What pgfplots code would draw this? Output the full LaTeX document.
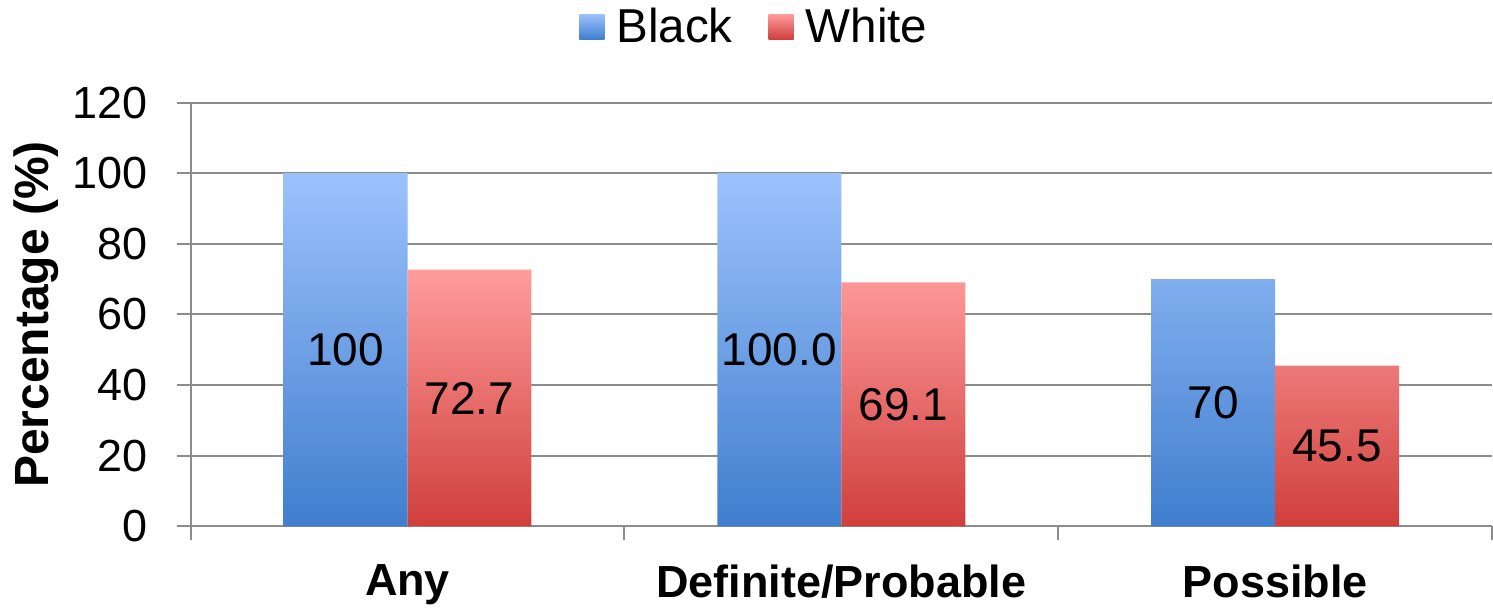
\documentclass[border=0pt]{standalone}
\usepackage{pgfplots}
\pgfplotsset{compat=1.18}
\usepackage{fontspec}
\setmainfont{Liberation Sans}

\definecolor{bluetop}{RGB}{156,194,252}
\definecolor{bluebot}{RGB}{64,126,206}
\definecolor{redtop}{RGB}{255,156,156}
\definecolor{redbot}{RGB}{207,63,60}
\definecolor{gridgray}{RGB}{140,140,140}

\begin{document}
\begin{tikzpicture}
\begin{axis}[
  scale only axis,
  width=651pt, height=212pt,
  xmin=-0.5, xmax=2.5,
  ymin=0, ymax=120,
  ytick={0,20,...,120},
  axis lines*=left,
  axis line style={draw=gridgray, line width=1pt},
  ymajorgrids,
  grid style={draw=gridgray, line width=1pt},
  tick align=outside,
  major tick length=7pt,
  minor tick length=7pt,
  tick style={draw=gridgray, line width=1pt},
  % category names at the bar groups, separator ticks between them
  xtick={0,1,2},
  xticklabels={Any,Definite/Probable,Possible},
  major x tick style={draw=none},
  minor xtick={-0.5,0.5,1.5,2.5},
  xticklabel style={font=\fontsize{22.5}{27}\selectfont\bfseries, yshift=-8.5pt},
  /pgf/number format/assume math mode=true,
  yticklabel style={font=\fontsize{22.5}{27}\selectfont, xshift=-11pt},
  ylabel={\rule{0pt}{21pt}Percentage (\%)},
  ylabel style={font=\fontsize{24}{28}\selectfont\bfseries},
  ybar=0pt,
  bar width=0.2857,
  point meta=explicit symbolic,
  nodes near coords={\pgfplotspointmeta},
  visualization depends on={y \as \rawy},
  nodes near coords style={font=\fontsize{23}{27}\selectfont, anchor=center,
    shift={(axis direction cs:0,-\rawy/2)}},
  legend columns=2,
  legend style={at={(0.437,1.243)}, anchor=north, draw=none, fill=none,
    font=\fontsize{23.8}{28}\selectfont,
    nodes={inner xsep=6pt},
    /tikz/every even column/.append style={column sep=12pt}},
]
\addplot[draw=none, top color=bluetop, bottom color=bluebot,
  legend image code/.code={\shade[top color=bluetop, bottom color=bluebot] (0pt,-6.25pt) rectangle (12.5pt,6.25pt);}]
  coordinates {(0,100) [100] (1,100) [100.0] (2,70) [70]};
\addlegendentry{Black}
\addplot[draw=none, top color=redtop, bottom color=redbot,
  legend image code/.code={\shade[top color=redtop, bottom color=redbot] (0pt,-6.25pt) rectangle (12.5pt,6.25pt);}]
  coordinates {(0,72.7) [72.7] (1,69.1) [69.1] (2,45.5) [45.5]};
\addlegendentry{White}
\end{axis}
\end{tikzpicture}
\end{document}
